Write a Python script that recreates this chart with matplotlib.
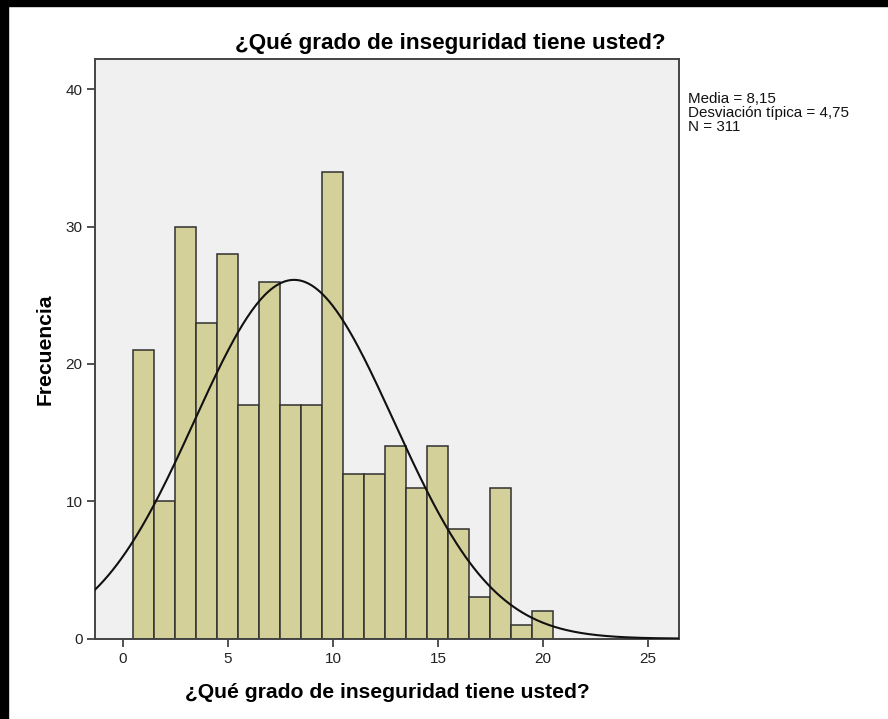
import numpy as np
import matplotlib
matplotlib.use('Agg')
import matplotlib.pyplot as plt
from matplotlib.patches import Rectangle

plt.rcParams['font.family'] = ['Liberation Sans', 'DejaVu Sans']

# frecuencias por valor (1..20)
valores = np.arange(1, 21)
frecuencias = [21, 10, 30, 23, 28, 17, 26, 17, 17, 34,
               12, 12, 14, 11, 14, 8, 3, 11, 1, 2]
media = 8.15
desviacion = 4.75
n_total = 311

titulo = '¿Qué grado de inseguridad tiene usted?'
etiqueta_y = 'Frecuencia'
xticks = [0, 5, 10, 15, 20, 25]
yticks = [0, 10, 20, 30, 40]

fig = plt.figure(figsize=(8.88, 7.19), dpi=100)
fig.patch.set_facecolor('white')
ax = fig.add_axes([0.107, 0.1117, 0.6576, 0.8063])
ax.set_facecolor('#F0F0F0')

ax.bar(valores, frecuencias, width=1.0, color='#D4D09A',
       edgecolor='#303030', linewidth=1.1, zorder=2)

xlim = (-1.33, 26.48)
xs = np.linspace(xlim[0], xlim[1], 400)
curva = n_total / (desviacion * np.sqrt(2 * np.pi)) * np.exp(-0.5 * ((xs - media) / desviacion) ** 2)
ax.plot(xs, curva, color='#111111', linewidth=1.5, zorder=3)

ax.set_xlim(*xlim)
ax.set_ylim(0, 42.2)
ax.set_xticks(xticks)
ax.set_yticks(yticks)
ax.tick_params(axis='both', direction='out', length=6, width=1.2,
               color='#333333', labelsize=11, labelcolor='#222222')
ax.tick_params(axis='y', pad=3)
for s in ax.spines.values():
    s.set_color('#444444')
    s.set_linewidth(1.4)

fig.text(450 / 888, 1 - 43 / 719, titulo, fontsize=16.2, fontweight='bold',
         ha='center', va='center')
ax.set_xlabel(titulo, fontsize=15.2, fontweight='bold', labelpad=12)
ax.set_ylabel(etiqueta_y, fontsize=15.2, fontweight='bold', labelpad=8)

fig.text(688 / 888, 1 - 92 / 719,
         f'Media = {media:.2f}'.replace('.', ',') + '\n'
         + f'Desviación típica = {desviacion:.2f}'.replace('.', ',') + '\n'
         + f'N = {n_total}',
         fontsize=10.9, va='top', ha='left', linespacing=0.98, color='#111111')

# marco negro superior e izquierdo
fig.patches.append(Rectangle((0, 1 - 6 / 719), 1, 6 / 719, transform=fig.transFigure,
                             color='black', zorder=10))
fig.patches.append(Rectangle((0, 0), 8 / 888, 1, transform=fig.transFigure,
                             color='black', zorder=10))

fig.savefig('out.png', dpi=100)
